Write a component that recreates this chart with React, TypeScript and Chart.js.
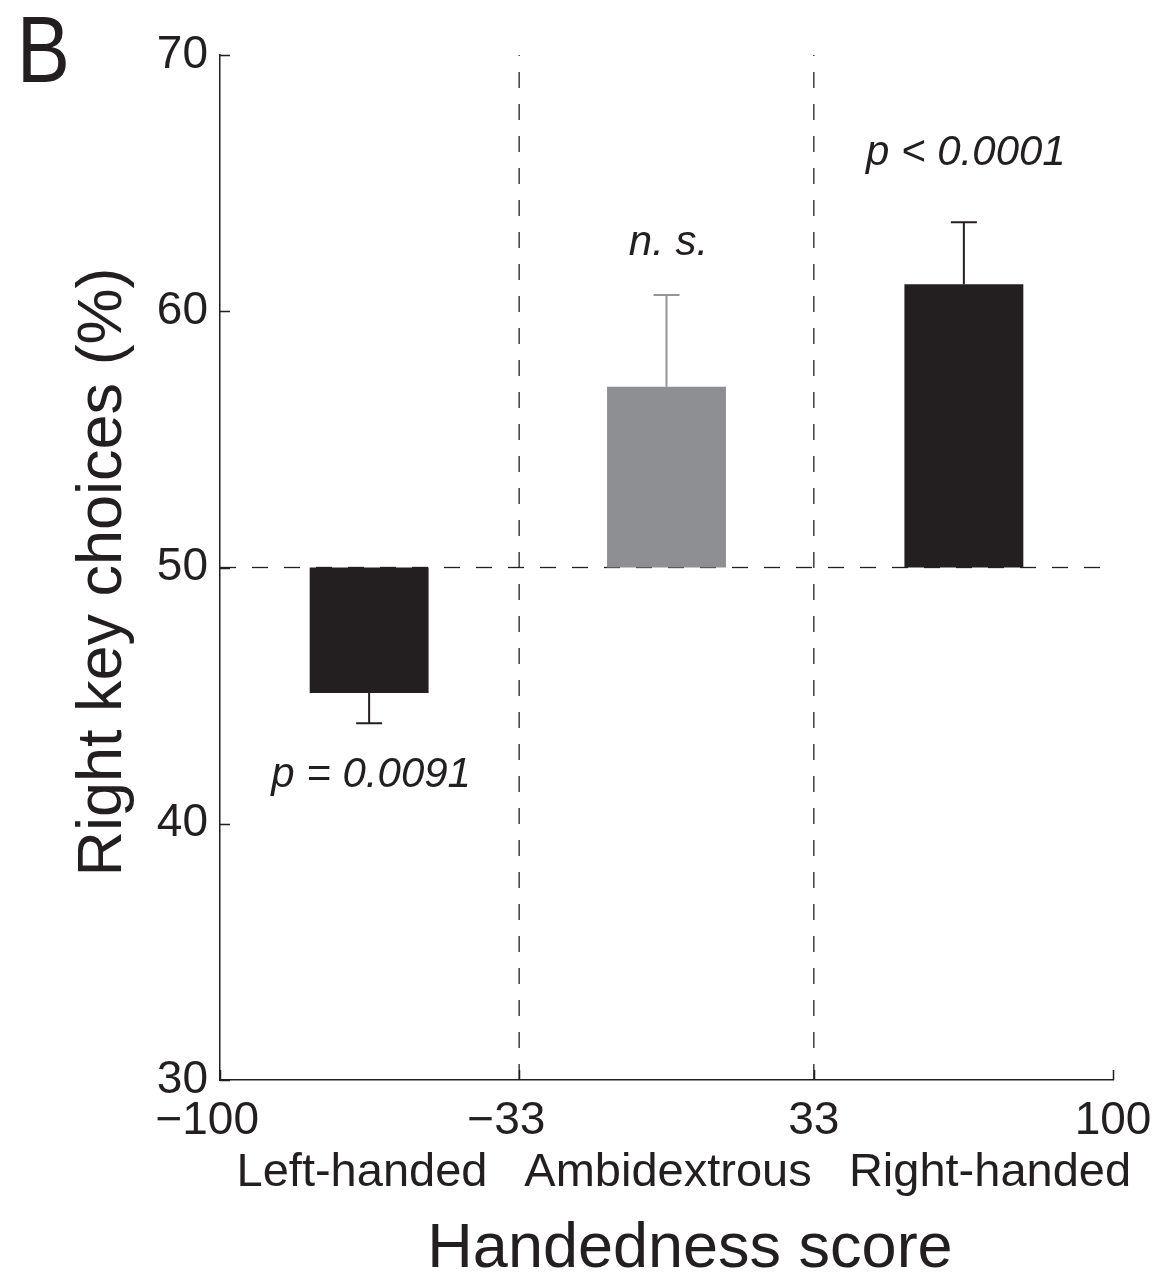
import React, { useEffect, useRef } from 'react';
import { Chart, registerables } from 'chart.js';

Chart.register(...registerables);

// ---- data ----
const categories = ['Left-handed', 'Ambidextrous', 'Right-handed'];
const barCenters = [-66.6, 0, 66.6];
const baseline = 50;
const means = [45.1, 57.05, 61.05];
const sems = [1.18, 3.58, 2.42];
const pLabels = ['p = 0.0091', 'n. s.', 'p < 0.0001'];
const pLabelY = [41.45, 62.2, 65.7];
const xTickValues = [-100, -33, 33, 100];
const yTickValues = [30, 40, 50, 60, 70];
const dividers = [-33, 33];
const barColors = ['#231f20', '#8e8f92', '#231f20'];
const errColors = ['#231f20', '#939598', '#231f20'];
const panelLetter = 'B';
const xTitle = 'Handedness score';
const yTitle = 'Right key choices (%)';

const FONT = '"Liberation Sans", Arial, Helvetica, sans-serif';
const INK = '#231f20';

const decorPlugin = {
  id: 'decor',
  beforeDatasetsDraw(chart: any) {
    const { ctx, scales } = chart;
    const x = scales.x;
    const y = scales.y;
    ctx.save();
    ctx.strokeStyle = INK;
    ctx.lineWidth = 1.3;
    ctx.setLineDash([16, 16]);
    // horizontal chance line
    ctx.beginPath();
    ctx.moveTo(x.getPixelForValue(-100), y.getPixelForValue(baseline));
    ctx.lineTo(x.getPixelForValue(100), y.getPixelForValue(baseline));
    ctx.stroke();
    // vertical dividers (drawn from bottom up)
    dividers.forEach((d) => {
      ctx.beginPath();
      ctx.moveTo(x.getPixelForValue(d), y.getPixelForValue(30));
      ctx.lineTo(x.getPixelForValue(d), y.getPixelForValue(70));
      ctx.stroke();
    });
    ctx.restore();
  },
  afterDatasetsDraw(chart: any) {
    const { ctx, scales } = chart;
    const x = scales.x;
    const y = scales.y;
    const meta = chart.getDatasetMeta(0);
    ctx.save();
    // error bars
    ctx.lineWidth = 2;
    meta.data.forEach((el: any, i: number) => {
      const dir = means[i] < baseline ? -1 : 1;
      const y0 = y.getPixelForValue(means[i]);
      const y1 = y.getPixelForValue(means[i] + dir * sems[i]);
      ctx.strokeStyle = errColors[i];
      ctx.beginPath();
      ctx.moveTo(el.x, y0);
      ctx.lineTo(el.x, y1);
      ctx.moveTo(el.x - 13, y1);
      ctx.lineTo(el.x + 13, y1);
      ctx.stroke();
    });
    // inward ticks
    ctx.strokeStyle = INK;
    ctx.lineWidth = 1.5;
    const left = chart.chartArea.left;
    const bottom = chart.chartArea.bottom;
    ctx.beginPath();
    yTickValues.forEach((v) => {
      const py = Math.round(y.getPixelForValue(v)) + 0.5;
      ctx.moveTo(left, py);
      ctx.lineTo(left + 10, py);
    });
    xTickValues.forEach((v) => {
      const px = Math.round(x.getPixelForValue(v)) + 0.5;
      ctx.moveTo(px, bottom);
      ctx.lineTo(px, bottom - 10);
    });
    ctx.stroke();
    // p-value annotations
    ctx.fillStyle = INK;
    ctx.font = `italic 42px ${FONT}`;
    ctx.textAlign = 'center';
    ctx.textBaseline = 'alphabetic';
    pLabels.forEach((t, i) => {
      ctx.fillText(t, x.getPixelForValue(barCenters[i]) + 2, y.getPixelForValue(pLabelY[i]));
    });
    ctx.restore();
  },
  afterDraw(chart: any) {
    const { ctx } = chart;
    ctx.save();
    ctx.fillStyle = INK;
    // category labels
    ctx.font = `47px ${FONT}`;
    ctx.textAlign = 'center';
    ctx.textBaseline = 'alphabetic';
    const catPx = [362, 668, 990];
    categories.forEach((c, i) => ctx.fillText(c, catPx[i], 1186));
    // x title
    ctx.font = `63px ${FONT}`;
    ctx.fillText(xTitle, 690, 1267);
    // y title
    ctx.save();
    ctx.translate(121, 572);
    ctx.rotate(-Math.PI / 2);
    ctx.fillText(yTitle, 0, 0);
    ctx.restore();
    // panel letter
    ctx.save();
    ctx.translate(20, 82);
    ctx.scale(0.84, 1);
    ctx.textAlign = 'left';
    ctx.font = `95px ${FONT}`;
    ctx.fillText(panelLetter, -4, 0);
    ctx.restore();
    ctx.restore();
  },
};

export default function App() {
  const ref = useRef<HTMLCanvasElement | null>(null);
  useEffect(() => {
    document.body.style.margin = '0';
    const canvas = ref.current;
    if (!canvas) return;
    const chart = new Chart(canvas, {
      type: 'bar',
      data: {
        datasets: [
          {
            data: barCenters.map((c, i) => ({ x: c, y: [baseline, means[i]] })) as any,
            backgroundColor: barColors,
            borderWidth: 0,
            barPercentage: 0.4035,
            categoryPercentage: 1,
          },
        ],
      },
      options: {
        animation: false,
        responsive: false,
        devicePixelRatio: 1,
        layout: { padding: { top: 55, right: 41, left: 0, bottom: 0 } },
        plugins: { legend: { display: false }, tooltip: { enabled: false }, title: { display: false } },
        scales: {
          x: {
            type: 'linear',
            min: -100,
            max: 100,
            offset: false,
            afterBuildTicks: (s: any) => {
              s.ticks = xTickValues.map((v) => ({ value: v }));
            },
            afterFit: (s: any) => {
              s.height = 193;
              s.paddingLeft = 0;
              s.paddingRight = 0;
            },
            grid: { display: false, drawTicks: false, offset: false },
            border: { display: true, color: INK, width: 1.5 },
            ticks: {
              color: INK,
              font: { family: FONT, size: 46 },
              padding: 14,
              maxRotation: 0,
              autoSkip: false,
              callback: (v: any) => (v < 0 ? '\u2212' + Math.abs(v) + '\u00a0\u00a0' : String(v)),
            },
          },
          y: {
            type: 'linear',
            min: 30,
            max: 70,
            afterBuildTicks: (s: any) => {
              s.ticks = yTickValues.map((v) => ({ value: v }));
            },
            afterFit: (s: any) => {
              s.width = 220;
              s.paddingTop = 0;
              s.paddingBottom = 0;
            },
            grid: { display: false, drawTicks: false },
            border: { display: true, color: INK, width: 1.5 },
            ticks: {
              color: INK,
              font: { family: FONT, size: 46 },
              padding: 12,
              autoSkip: false,
            },
          },
        },
      },
      plugins: [decorPlugin],
    });
    return () => chart.destroy();
  }, []);
  return (
    <div style={{ width: 1154, height: 1273, background: '#fff' }}>
      <canvas ref={ref} width={1154} height={1273} style={{ width: 1154, height: 1273, display: 'block' }} />
    </div>
  );
}
